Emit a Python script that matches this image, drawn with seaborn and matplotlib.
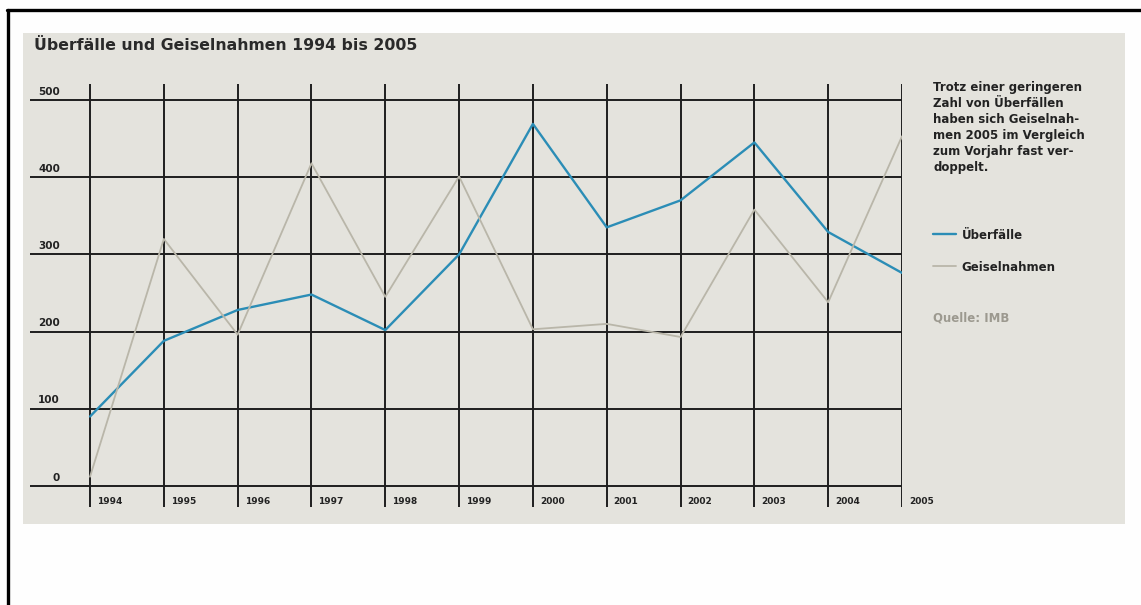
import pandas as pd
import matplotlib.pyplot as plt
import seaborn as sns
from matplotlib.patches import Rectangle
from matplotlib.lines import Line2D

# Daten ----------------------------------------------------------------------#
jahre = [1994, 1995, 1996, 1997, 1998, 1999, 2000, 2001, 2002, 2003, 2004, 2005]
ueberfaelle = [90, 188, 228, 248, 202, 300, 469, 335, 370, 445, 329, 276]
geiselnahmen = [12, 320, 196, 418, 245, 401, 203, 210, 193, 358, 238, 453]
y_ticks = [0, 100, 200, 300, 400, 500]

titel = "Überfälle und Geiselnahmen 1994 bis 2005"
hinweis = ("Trotz einer geringeren\nZahl von Überfällen\nhaben sich Geiselnah-\n"
           "men 2005 im Vergleich\nzum Vorjahr fast ver-\ndoppelt.")
quelle = "Quelle: IMB"

blau = "#2b8db6"
grau = "#b9b6a9"
panel = "#e4e3dd"

# Layout ---------------------------------------------------------------------#
sns.set_theme(style="white")
plt.rcParams['font.family'] = ['DejaVu Sans']

W, H = 1141, 605
fig = plt.figure(figsize=(W / 100, H / 100), dpi=100)
fig.patch.set_facecolor("#fefefe")

# grauer Hintergrund und Rahmen
fig.add_artist(Rectangle((23 / W, 1 - 524 / H), (1125 - 23) / W, (524 - 33) / H,
                         transform=fig.transFigure, facecolor=panel,
                         edgecolor="none", zorder=0))
fig.add_artist(Line2D([7 / W, 1], [1 - 10 / H, 1 - 10 / H], color="black", lw=2.4))
fig.add_artist(Line2D([8 / W, 8 / W], [0, 1 - 10 / H], color="black", lw=2.4))

ax = fig.add_axes([30 / W, 1 - 507 / H, (902 - 30) / W, (507 - 84) / H])
ax.patch.set_alpha(0)

sns.lineplot(x=jahre, y=ueberfaelle, color=blau, lw=1.7, label="Überfälle", ax=ax)
sns.lineplot(x=jahre, y=geiselnahmen, color=grau, lw=1.3, label="Geiselnahmen", ax=ax)

ax.set_xlim(1994 - 60 / 73.8, 2005)
ax.set_ylim(-27.2, 520.7)
ax.set_xticks(jahre)
ax.set_yticks(y_ticks)
ax.grid(True, color="#1e1e1e", lw=1.4)
ax.set_axisbelow(True)
ax.tick_params(length=0, labelbottom=False, labelleft=False)
for s in ax.spines.values():
    s.set_visible(False)

# Achsenbeschriftung
for v in y_ticks:
    ax.annotate(str(v), xy=(30 / 872, v), xycoords=("axes fraction", "data"),
                xytext=(0, 6), textcoords="offset points", ha="right", va="center",
                fontsize=7.5, fontweight="bold", color="#222222")
for j in jahre:
    ax.annotate(str(j), xy=(j, 0), xycoords=("data", "axes fraction"),
                xytext=(5, 3.6), textcoords="offset points", ha="left", va="center",
                fontsize=6.5, fontweight="bold", color="#222222")

fig.text(34 / W, 1 - 45 / H, titel, fontsize=11.3, fontweight="bold",
         color="#2a2a2a", va="center", ha="left")
fig.text(933 / W, 1 - 81 / H, hinweis, fontsize=8.5, fontweight="bold",
         color="#222222", va="top", ha="left", linespacing=1.31)
fig.text(933 / W, 1 - 318 / H, quelle, fontsize=8.5, fontweight="bold",
         color="#9c998f", va="center", ha="left")

leg = ax.legend(loc="upper left", bbox_to_anchor=(922 / W, 1 - 218 / H),
                bbox_transform=fig.transFigure, frameon=False, handlelength=1.95,
                handletextpad=0.5, labelspacing=1.6,
                prop={"size": 8.5, "weight": "bold"})
for t in leg.get_texts():
    t.set_color("#222222")

fig.savefig("out.png", dpi=100, facecolor=fig.get_facecolor())
